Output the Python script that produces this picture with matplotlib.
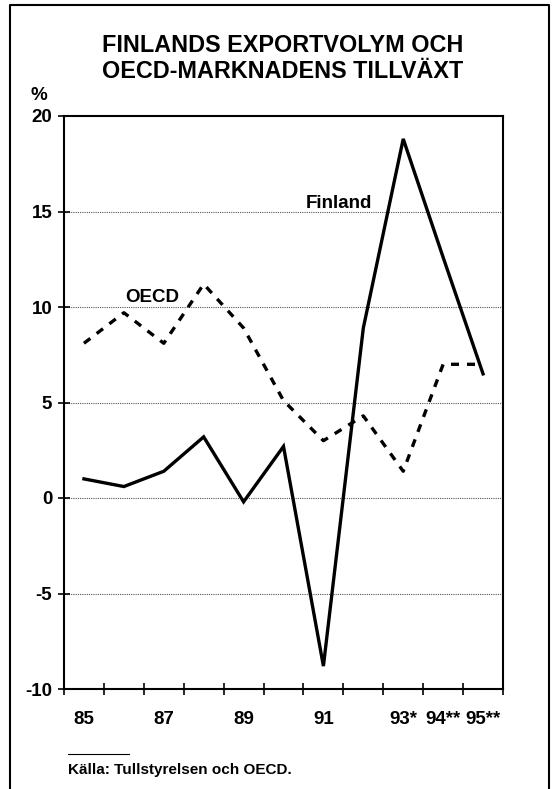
import matplotlib.pyplot as plt
from matplotlib.lines import Line2D

plt.rcParams['font.family'] = ['Liberation Sans', 'DejaVu Sans']
plt.rcParams['font.weight'] = 'bold'

years = [85, 86, 87, 88, 89, 90, 91, 92, 93, 94, 95]
year_labels = ["85", "", "87", "", "89", "", "91", "", "93*", "94**", "95**"]
finland = [1.0, 0.6, 1.4, 3.2, -0.2, 2.7, -8.8, 8.9, 18.8, 12.6, 6.5]
oecd = [8.1, 9.7, 8.1, 11.2, 8.9, 5.1, 3.0, 4.3, 1.4, 7.0, 7.0]

fig = plt.figure(figsize=(5.55, 7.89), dpi=100)
ax = fig.add_axes([64 / 555, 1 - 689 / 789, 439 / 555, 573 / 789])

ax.plot(years, finland, color="black", lw=2.4, solid_joinstyle="miter")
ax.plot(years, oecd, color="black", lw=2.4, dashes=(2.4, 2.4))

ax.set_xlim(84.5, 95.5)
ax.set_ylim(-10, 20)
ax.set_yticks([-10, -5, 0, 5, 10, 15, 20])
ax.set_yticklabels(["-10", "-5", "0", "5", "10", "15", "20"], fontsize=13.5, fontweight="bold")
for y in [-5, 0, 5, 10, 15]:
    ax.axhline(y, color="#555555", lw=0.8, ls=(0, (1, 1)), zorder=0)

ax.set_xticks([x - 0.5 for x in years] + [95.5])
ax.set_xticklabels([])
ax.set_xticks(years, minor=True)
ax.set_xticklabels(year_labels, minor=True, fontsize=13.5, fontweight="bold")
ax.tick_params(axis="x", which="major", direction="inout", length=9, width=1.2)
ax.tick_params(axis="x", which="minor", length=0, pad=16)
ax.tick_params(axis="y", direction="inout", length=9, width=1.2, pad=4)
for s in ax.spines.values():
    s.set_linewidth(1.5)

ax.text(86.7, 10.5, "OECD", fontsize=13.5, fontweight="bold", ha="center", va="center")
ax.text(91.4, 15.4, "Finland", fontsize=13.5, fontweight="bold", ha="center", va="center")

fig.text(283 / 555, 1 - 46 / 789, "FINLANDS EXPORTVOLYM OCH", fontsize=16.8, fontweight="bold",
         ha="center", va="center")
fig.text(283 / 555, 1 - 72 / 789, "OECD-MARKNADENS TILLVÄXT", fontsize=16.8, fontweight="bold",
         ha="center", va="center")
fig.text(39 / 555, 1 - 96 / 789, "%", fontsize=13.5, fontweight="bold", ha="center", va="center")

fig.add_artist(Line2D([68 / 555, 129 / 555], [1 - 754 / 789] * 2, color="black", lw=0.8))
fig.text(68 / 555, 1 - 770 / 789, "Källa: Tullstyrelsen och OECD.", fontsize=11, fontweight="bold",
         ha="left", va="center")

# outer frame, open at the bottom
fx0, fx1, fy0 = 10 / 555, 549 / 555, 1 - 5 / 789
fig.add_artist(Line2D([fx0, fx0, fx1, fx1], [0, fy0, fy0, 0], color="black", lw=1.5))

fig.savefig("out.png", dpi=100)
